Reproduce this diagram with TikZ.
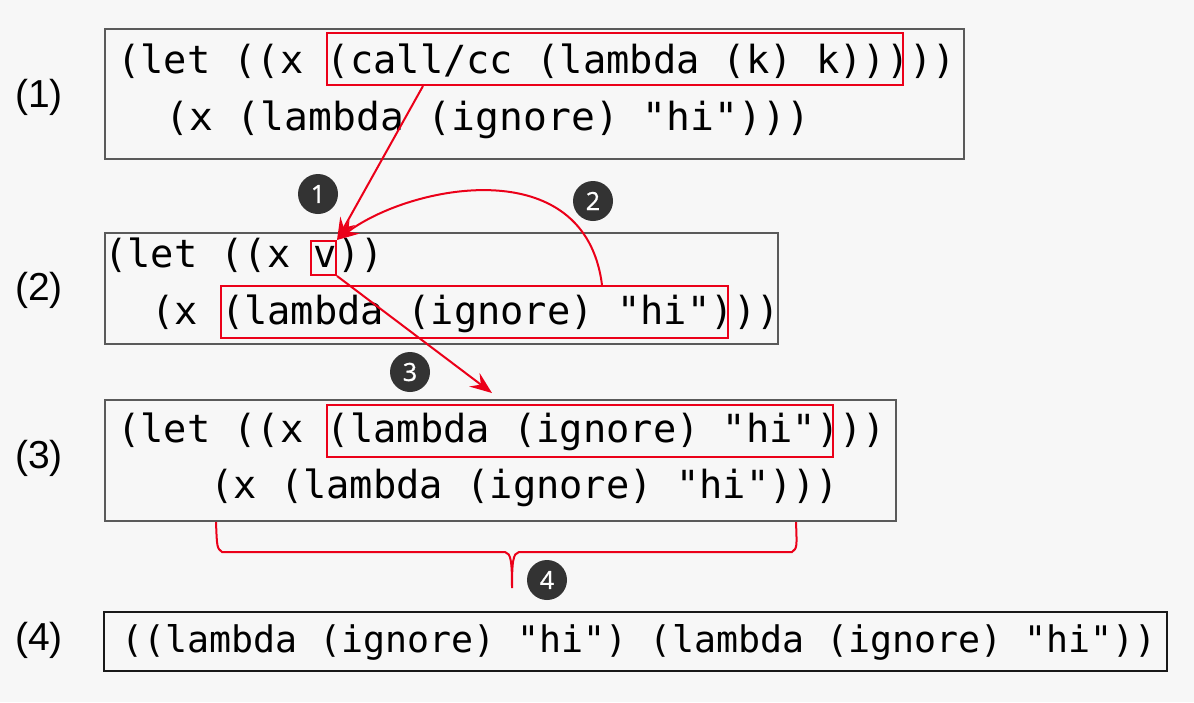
\documentclass[tikz,border=0pt]{standalone}
\usepackage{fontspec}
\setmainfont{Liberation Sans}
\newfontfamily\codefont{DejaVu Sans Mono}
\newfontfamily\badgefont[FakeBold=1]{Open Sans}
\usetikzlibrary{arrows.meta,calc}
\definecolor{bgc}{RGB}{247,247,247}
\definecolor{hlred}{RGB}{235,0,25}
\definecolor{boxgray}{RGB}{90,90,90}
\definecolor{badgec}{RGB}{51,51,51}
\definecolor{finalc}{RGB}{25,25,25}
\tikzset{
 codebox/.style={draw=boxgray, line width=2pt, inner sep=0pt},
 finalbox/.style={draw=finalc, line width=2pt, inner sep=0pt},
 hlbox/.style={draw=hlred, line width=2pt, inner sep=0pt},
 codeline/.style={anchor=base west, inner sep=0pt, font=\codefont\fontsize{38.7}{46}\selectfont},
 finalline/.style={anchor=base west, inner sep=0pt, font=\codefont\fontsize{36.6}{44}\selectfont},
 steplabel/.style={anchor=center, inner sep=0pt, font=\fontsize{39}{46}\selectfont},
 badge/.style={circle, fill=badgec, minimum size=40pt, inner sep=0pt, text=white, font=\badgefont\fontsize{25}{28}\selectfont},
 redarrow/.style={draw=hlred, line width=2pt, -{Stealth[length=22pt,width=17pt,inset=8pt]}},
 redline/.style={draw=hlred, line width=2pt},
}
\begin{document}
\begin{tikzpicture}[x=1pt,y=-1pt]
\path[fill=bgc,use as bounding box] (0,0) rectangle (1194,702);

% outer boxes
\node[codebox, minimum width=859pt, minimum height=130pt] (b1) at (534.5,94) {};
\node[codebox, minimum width=673pt, minimum height=111pt] (b2) at (441.5,288.5) {};
\node[codebox, minimum width=791pt, minimum height=121pt] (b3) at (500.5,460.5) {};
\node[finalbox, minimum width=1063pt, minimum height=59pt] (b4) at (635.5,641.5) {};

% step labels
\node[steplabel] (l1) at (39,97) {(1)};
\node[steplabel] (l2) at (39,290) {(2)};
\node[steplabel] (l3) at (39,458) {(3)};
\node[steplabel] (l4) at (39,640) {(4)};

% code lines
\node[codeline] (c1a) at (117,73) {(let ((x (call/cc (lambda (k) k)))))};
\node[codeline] (c1b) at (165,130) {\scalebox{1.025}[1]{(x (lambda (ignore) "hi")))}};
\node[codeline] (c2a) at (104,267) {(let ((x v))};
\node[codeline] (c2b) at (151,324) {(x (lambda (ignore) "hi")))};
\node[codeline] (c3a) at (117,442) {(let ((x (lambda (ignore) "hi")))};
\node[codeline] (c3b) at (210,498) {(x (lambda (ignore) "hi")))};
\node[finalline] (c4) at (121,652) {((lambda (ignore) "hi") (lambda (ignore) "hi"))};

% highlight boxes
\node[hlbox, minimum width=576pt, minimum height=52pt] (r1) at (615,59) {};
\node[hlbox, minimum width=25pt, minimum height=34pt] (rv) at (323.5,258) {};
\node[hlbox, minimum width=507pt, minimum height=52pt] (rl) at (474.5,312) {};
\node[hlbox, minimum width=506pt, minimum height=52pt] (r3) at (580,431) {};

% badges
\node[badge] (n1) at (318,194) {1};
\node[badge] (n2) at (593,201) {2};
\node[badge] (n3) at (410,372) {3};
\node[badge] (n4) at (547,580) {4};

% arrows
\coordinate (a1s) at ($(r1.south west)+(97,0)$);
\coordinate (a2s) at ($(rl.north west)+(382,0)$);
\coordinate (a3e) at ($(b3.north west)+(388,-6)$);
\draw[redarrow] (a1s) -- (rv.north east);
\draw[redarrow] (a2s) .. controls (585,150) and (410,185) .. (rv.north east);
\draw[redarrow] (rv.south east) -- (a3e);

% brace
\coordinate (bl) at ($(b3.south west)+(112,0)$);
\coordinate (br) at ($(b3.south west)+(692,0)$);
\coordinate (bt) at (512,588);
\draw[redline] (bl) .. controls (217,548) .. (222,552) -- (505,552)
  .. controls (511,553) and (512,562) .. (bt)
  .. controls (512,562) and (513,553) .. (519,552) -- (792,552)
  .. controls (797,548) .. (br);
\end{tikzpicture}
\end{document}
